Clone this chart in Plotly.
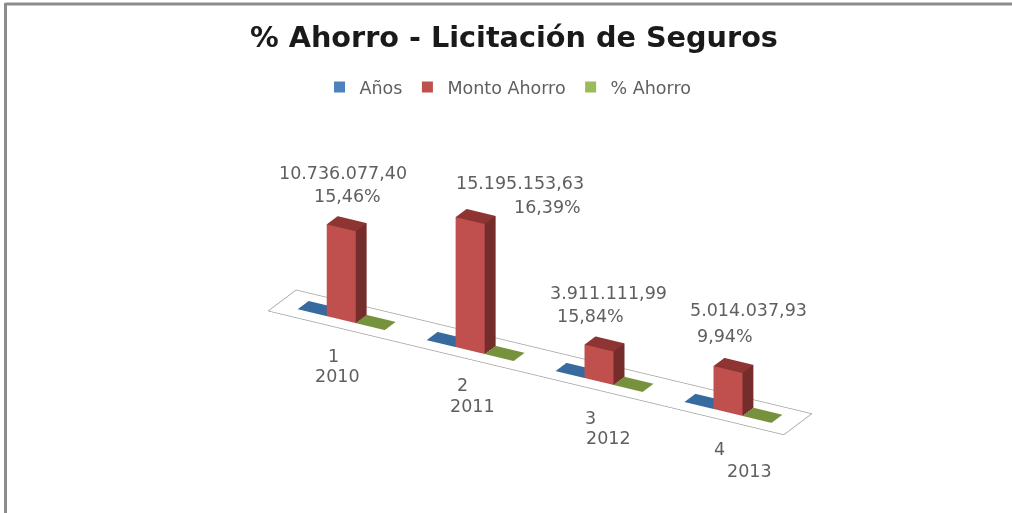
import math
import plotly.graph_objects as go

indices = [1, 2, 3, 4]
anios = [2010, 2011, 2012, 2013]
monto = [10736077.40, 15195153.63, 3911111.99, 5014037.93]
pct = [15.46, 16.39, 15.84, 9.94]
monto_txt = ["10.736.077,40", "15.195.153,63", "3.911.111,99", "5.014.037,93"]
pct_txt = ["15,46%", "16,39%", "15,84%", "9,94%"]

GAP = 0.16
W = 0.225
Y0, Y1 = 0.32, 0.71
ZMAX = 16e6

def box(cat, slot, h, col_front, col_top, col_side):
    x0 = cat + GAP + slot * W
    x1 = x0 + W
    xs = [x0, x1, x1, x0, x0, x1, x1, x0]
    ys = [Y0, Y0, Y1, Y1, Y0, Y0, Y1, Y1]
    zs = [0, 0, 0, 0, h, h, h, h]
    faces = [
        (0, 1, 5, col_front), (0, 5, 4, col_front),
        (1, 2, 6, col_side), (1, 6, 5, col_side),
        (4, 5, 6, col_top), (4, 6, 7, col_top),
    ]
    return go.Mesh3d(
        x=xs, y=ys, z=zs,
        i=[f[0] for f in faces], j=[f[1] for f in faces], k=[f[2] for f in faces],
        facecolor=[f[3] for f in faces], flatshading=True,
        lighting=dict(ambient=1, diffuse=0, specular=0, fresnel=0, roughness=1),
        hoverinfo="skip", showlegend=False, showscale=False,
    )

fig = go.Figure()
fig.add_trace(go.Scatter3d(
    x=[0, 4, 4, 0, 0], y=[0, 0, 1, 1, 0], z=[0, 0, 0, 0, 0], mode="lines",
    line=dict(color="#a0a0a0", width=1.5), hoverinfo="skip", showlegend=False))
for c in range(4):
    fig.add_trace(box(c, 0, anios[c], "#376a9f", "#376a9f", "#376a9f"))
    fig.add_trace(box(c, 1, monto[c], "#c0504d", "#8e3432", "#752d2b"))
    fig.add_trace(box(c, 2, pct[c], "#76923c", "#76923c", "#76923c"))

for name, col in [("Años", "#4f81bd"), ("Monto Ahorro", "#c0504d"), ("% Ahorro", "#9bbb59")]:
    fig.add_trace(go.Scatter(x=[None], y=[None], mode="markers", name=name,
                             marker=dict(symbol="square", size=11, color=col)))

FONT = "DejaVu Sans"
GRAY = "#5f5f5f"
def label(px, py, text, size=17.5, color=GRAY, weight="normal"):
    fig.add_annotation(xref="paper", yref="paper", x=px / 1012, y=1 - py / 513, text=text,
                       showarrow=False, xanchor="center", yanchor="middle",
                       font=dict(family=FONT, size=size, color=color, weight=weight))

label(514, 37, "% Ahorro - Licitación de Seguros", size=28.7, color="#1a1a1a", weight="bold")
mp = [(343, 173), (520, 183), (608, 293), (748, 310)]
pp = [(347, 196), (547, 207), (590, 316), (725, 336)]
ip = [(333, 356), (462, 385), (590, 418), (719, 449)]
yp = [(337, 376), (472, 406), (608, 438), (749, 471)]
for c in range(4):
    label(*mp[c], monto_txt[c])
    label(*pp[c], pct_txt[c])
    label(*ip[c], str(indices[c]))
    label(*yp[c], str(anios[c]))

# oblique view: per unit pixel vectors x=(129,31), y=(28,-21), z=8.57 px per million
s = 0.424
a = math.atan(0.566)
EYE = 3
K = 2.31
AX, AY, AZ = K, 0.096 * K, 0.255 * K
CX, CZ = -0.0659 * AX, 0.214 * AZ
ex, ey = math.sin(a) * math.sqrt(1 - s * s), -math.cos(a) * math.sqrt(1 - s * s)
fig.update_layout(
    width=1012, height=513, autosize=False,
    margin=dict(l=0, r=0, t=0, b=0),
    paper_bgcolor="white", plot_bgcolor="rgba(0,0,0,0)",
    xaxis=dict(visible=False), yaxis=dict(visible=False),
    showlegend=True,
    legend=dict(orientation="h", x=0.502, xanchor="center", y=0.83, yanchor="middle",
                itemwidth=30,
                font=dict(family=FONT, size=17.5, color=GRAY), bgcolor="rgba(0,0,0,0)"),
    scene=dict(
        domain=dict(x=[0, 1], y=[0, 1]),
        xaxis=dict(visible=False, range=[0, 4]),
        yaxis=dict(visible=False, range=[0, 1]),
        zaxis=dict(visible=False, range=[0, ZMAX]),
        aspectmode="manual",
        aspectratio=dict(x=AX, y=AY, z=AZ),
        camera=dict(projection=dict(type="orthographic"),
                    up=dict(x=0, y=0, z=1), center=dict(x=CX, y=0, z=CZ),
                    eye=dict(x=CX + EYE * ex, y=EYE * ey, z=CZ + EYE * s)),
    ),
    shapes=[
        dict(type="line", xref="paper", yref="paper", x0=5.5 / 1012, x1=1, y0=1 - 4 / 513, y1=1 - 4 / 513,
             line=dict(color="#8c8c8c", width=3)),
        dict(type="line", xref="paper", yref="paper", x0=5.5 / 1012, x1=5.5 / 1012, y0=0, y1=1 - 3 / 513,
             line=dict(color="#8c8c8c", width=3)),
    ],
)
fig.write_html("out.html", config=dict(displayModeBar=False),
               post_script="document.body.style.margin='0';document.body.style.overflow='hidden';")
